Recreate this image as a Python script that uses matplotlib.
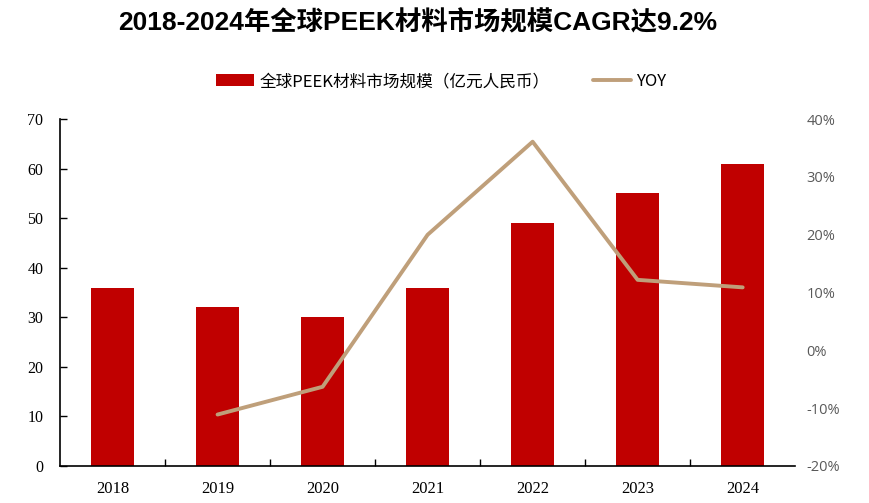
import matplotlib.pyplot as plt
from matplotlib.ticker import FuncFormatter

plt.rcParams['font.family'] = ['Noto Sans CJK SC', 'DejaVu Sans']

years = ['2018', '2019', '2020', '2021', '2022', '2023', '2024']
market_size = [36, 32, 30, 36, 49, 55, 61]
yoy_years = ['2019', '2020', '2021', '2022', '2023', '2024']
yoy = [-11.1, -6.3, 20.0, 36.1, 12.2, 10.9]

fig = plt.figure(figsize=(8.7, 5.03), dpi=100)
ax = fig.add_axes([0.069, 0.0736, 0.845, 0.6895])
ax2 = ax.twinx()

x = list(range(len(years)))
bars = ax.bar(x, market_size, width=0.41, color='#C00000', zorder=2,
              label='全球PEEK材料市场规模（亿元人民币）')
xi = [years.index(y) for y in yoy_years]
line, = ax2.plot(xi, yoy, color='#BF9F7A', lw=2.8, solid_capstyle='round',
                 label='YOY')

ax.set_xlim(-0.5, len(years) - 0.5)
ax.set_ylim(0, 70)
ax.set_yticks(range(0, 71, 10))
ax2.set_ylim(-20, 40)
ax2.set_yticks(range(-20, 41, 10))
ax2.yaxis.set_major_formatter(FuncFormatter(lambda v, p: f'{v:.0f}%'))

ax.set_xticks(x)
ax.set_xticklabels(years, family='Liberation Serif', fontsize=12)
ax.set_xticks([i + 0.5 for i in x[:-1]], minor=True)
ax.tick_params(axis='x', which='major', length=0, pad=11)
ax.tick_params(axis='x', which='minor', direction='in', length=5, width=1)
ax.tick_params(axis='y', direction='in', length=5, width=1, pad=12)
for lab in ax.get_yticklabels():
    lab.set_family('Liberation Serif')
    lab.set_fontsize(11.5)
ax2.tick_params(axis='y', length=0, pad=8, labelcolor='#595959', labelsize=10.5)
for lab in ax2.get_yticklabels():
    lab.set_family(['Open Sans', 'DejaVu Sans'])

for s in ['top', 'right']:
    ax.spines[s].set_visible(False)
for s in ['top', 'right', 'left', 'bottom']:
    ax2.spines[s].set_visible(False)
ax.spines['left'].set_linewidth(1.2)
ax.spines['bottom'].set_linewidth(1.2)

fig.legend([bars, line], [bars.get_label(), 'YOY'], loc='center',
           bbox_to_anchor=(0.507, 0.838), ncol=2, frameon=False,
           fontsize=12, columnspacing=2.6, handlelength=2.3,
           handletextpad=0.3)

fig.text(0.48, 0.955, '2018-2024年全球PEEK材料市场规模CAGR达9.2%',
         ha='center', va='center', fontsize=19, fontweight='bold',
         family=['Liberation Sans', 'Noto Sans CJK SC'])

fig.savefig('out.png', dpi=100)
